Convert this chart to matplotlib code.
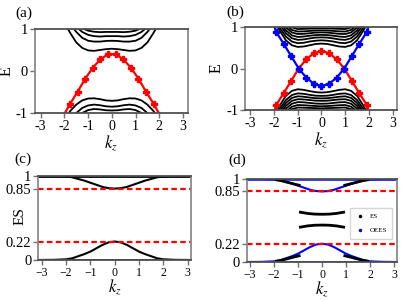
import numpy as np
import matplotlib
matplotlib.use('Agg')
import matplotlib.pyplot as plt
from matplotlib.lines import Line2D

plt.rcParams['font.family'] = ['Liberation Serif', 'DejaVu Serif']
plt.rcParams['mathtext.fontset'] = 'stix'

# half profiles (k >= 0), bands are symmetric in k
k_half = [0, 0.25, 0.5, 0.75, 1.0, 1.25, 1.5, 1.75, 2.0]

# (a) bulk bands
a_upper = [
    [0.53, 0.52, 0.50, 0.48, 0.49, 0.55, 0.68, 0.90, 1.15],
    [0.72, 0.715, 0.70, 0.70, 0.72, 0.79, 0.93, 1.12, 1.35],
    [0.83, 0.83, 0.82, 0.83, 0.86, 0.93, 1.05, 1.20, 1.40],
    [0.93, 0.93, 0.925, 0.935, 0.96, 1.02, 1.10, 1.25, 1.45],
]
a_lower = [
    [-0.71, -0.70, -0.67, -0.65, -0.655, -0.70, -0.80, -0.95, -1.15],
    [-0.85, -0.84, -0.815, -0.80, -0.82, -0.88, -1.00, -1.15, -1.30],
    [-0.94, -0.935, -0.915, -0.905, -0.93, -1.00, -1.10, -1.25, -1.40],
]

# (a) surface state (red)
a_red_k = [-1.98, -1.76, -1.44, -1.12, -0.8, -0.48, -0.16, 0.16, 0.48, 0.8, 1.12, 1.44, 1.76, 1.98]
a_red_e = [-1.0, -0.78, -0.49, -0.18, 0.08, 0.28, 0.40, 0.40, 0.28, 0.08, -0.18, -0.49, -0.78, -1.0]

# (b) bulk bands
b_upper = [
    [0.60, 0.59, 0.56, 0.53, 0.52, 0.56, 0.68, 0.90, 1.15],
    [0.68, 0.67, 0.65, 0.62, 0.61, 0.65, 0.77, 0.97, 1.20],
    [0.75, 0.745, 0.725, 0.70, 0.69, 0.73, 0.85, 1.05, 1.25],
    [0.81, 0.805, 0.79, 0.77, 0.76, 0.80, 0.92, 1.12, 1.30],
    [0.87, 0.865, 0.85, 0.835, 0.83, 0.87, 0.99, 1.18, 1.35],
    [0.92, 0.915, 0.905, 0.895, 0.89, 0.93, 1.05, 1.22, 1.40],
    [0.97, 0.965, 0.96, 0.955, 0.95, 0.99, 1.10, 1.25, 1.45],
]
b_lower = [
    [-0.58, -0.57, -0.545, -0.515, -0.50, -0.54, -0.66, -0.88, -1.15],
    [-0.66, -0.655, -0.635, -0.61, -0.60, -0.64, -0.76, -0.96, -1.20],
    [-0.72, -0.715, -0.70, -0.68, -0.67, -0.71, -0.83, -1.03, -1.25],
    [-0.78, -0.775, -0.76, -0.745, -0.74, -0.78, -0.90, -1.10, -1.30],
    [-0.85, -0.845, -0.83, -0.815, -0.81, -0.85, -0.97, -1.16, -1.35],
    [-0.91, -0.905, -0.895, -0.885, -0.88, -0.92, -1.04, -1.21, -1.40],
    [-0.96, -0.955, -0.95, -0.945, -0.94, -0.98, -1.09, -1.25, -1.45],
]

# (b) surface states
b_k = [-1.97, -1.92, -1.6, -1.28, -0.96, -0.64, -0.32, 0, 0.32, 0.64, 0.96, 1.28, 1.6, 1.92, 1.97]
b_red_e = [-1.0, -0.89, -0.60, -0.30, 0.0, 0.22, 0.37, 0.42, 0.37, 0.22, 0.0, -0.30, -0.60, -0.89, -1.0]
b_blue_e = [1.0, 0.89, 0.60, 0.30, 0.0, -0.22, -0.37, -0.42, -0.37, -0.22, 0.0, 0.30, 0.60, 0.89, 1.0]

# (c), (d) entanglement spectrum
es_k_half = [0, 0.25, 0.5, 0.75, 1.0, 1.25, 1.5, 1.75, 2.0, 2.5, 3.2]
es_low = [0.22, 0.21, 0.18, 0.14, 0.10, 0.07, 0.045, 0.02, 0.008, 0.002, 0.0]
es_high = [0.85, 0.855, 0.87, 0.895, 0.92, 0.945, 0.965, 0.985, 0.995, 0.999, 1.0]
es_flat_k = [-3.2, 3.2]
es_flat = [0.0, 1.0]
cut_lines = [0.85, 0.22]

# (d) ES points that leave the OEES curves
d_mid_k = [-0.9, -0.6, -0.3, 0, 0.3, 0.6, 0.9]
d_mid_hi = [0.60, 0.585, 0.577, 0.575, 0.577, 0.585, 0.60]
d_mid_lo = [0.42, 0.435, 0.443, 0.445, 0.443, 0.435, 0.42]
d_side_k = [-1.9, -1.7, -1.5, -1.3, -1.1, -0.95]
d_side_lo = [0.01, 0.02, 0.035, 0.05, 0.065, 0.075]
d_side_hi = [0.99, 0.98, 0.965, 0.95, 0.935, 0.925]


def full(kh, vals):
    kh = np.array(kh)
    v = np.array(vals)
    return np.concatenate([-kh[::-1], kh[1:]]), np.concatenate([v[::-1], v[1:]])


def style(ax):
    for s in ['left', 'right']:
        ax.spines[s].set_color('#8a8a8a')
    for s in ['top', 'bottom']:
        ax.spines[s].set_color('#505050')
    for s in ax.spines.values():
        s.set_linewidth(1.3)
    ax.tick_params(direction='out', length=3.5, width=1.0, color='#707070', pad=1.5)


W, H = 415, 301
fig = plt.figure(figsize=(W / 100, H / 100), dpi=100)


def box(l, r, t, b):
    return [l / W, (H - b) / H, (r - l) / W, (b - t) / H]


ax_a = fig.add_axes(box(34.8, 187.7, 29, 113))
ax_b = fig.add_axes(box(245.1, 397.4, 27, 110))
ax_c = fig.add_axes(box(38.3, 191.1, 176, 260))
ax_d = fig.add_axes(box(246.6, 397.4, 179, 262))

# (a)
for e in a_upper + a_lower:
    kk, ee = full(k_half, e)
    ax_a.plot(kk, ee, color='black', lw=1.3)
ax_a.plot(a_red_k, a_red_e, color='red', lw=1.6, marker='P', ms=4.2,
          markevery=list(range(1, len(a_red_k) - 1)))

# (b)
for e in b_upper + b_lower:
    kk, ee = full(k_half, e)
    ax_b.plot(kk, ee, color='black', lw=1.3)
mk = list(range(1, len(b_k) - 1))
ax_b.plot(b_k, b_red_e, color='red', lw=1.6, marker='P', ms=4.2, markevery=mk)
ax_b.plot(b_k, b_blue_e, color='blue', lw=1.6, marker='P', ms=4.2, markevery=mk)

for ax, lab, xl in [(ax_a, '(a)', (-3.25, 3.2)), (ax_b, '(b)', (-3.22, 3.2))]:
    ax.set_xlim(*xl)
    ax.set_ylim(-1, 1)
    ax.set_xticks([-3, -2, -1, 0, 1, 2, 3])
    ax.set_xticklabels(['-3', '-2', '-1', '0', '1', '2', '3'], fontsize=10)
    ax.set_yticks([-1, 0, 1])
    ax.set_yticklabels(['-1', '0', '1'], fontsize=10.5)
    ax.set_ylabel('E', fontsize=11.5)
    ax.yaxis.set_label_coords(-0.135, 0.5)
    ax.set_xlabel('$k_z$', fontsize=12)
    ax.xaxis.set_label_coords(0.5, -0.25)
    style(ax)

# (c)
for v in es_flat:
    ax_c.plot(es_flat_k, [v, v], color='black', lw=2)
for e in [es_low, es_high]:
    kk, ee = full(es_k_half, e)
    ax_c.plot(kk, ee, color='black', lw=1.5)
ax_c.set_ylabel('ES', fontsize=11)
ax_c.yaxis.set_label_coords(-0.075, 0.52)

# (d)
for v in es_flat:
    ax_d.plot(es_flat_k, [v, v], color='blue', lw=1.8)
for e in [es_low, es_high]:
    kk, ee = full(es_k_half, e)
    ax_d.plot(kk, ee, color='blue', lw=1.5)
ax_d.plot(d_mid_k, d_mid_hi, color='black', lw=2)
ax_d.plot(d_mid_k, d_mid_lo, color='black', lw=2)
for sgn in [1, -1]:
    ax_d.plot(np.array(d_side_k) * sgn, d_side_lo, color='black', lw=2)
    ax_d.plot(np.array(d_side_k) * sgn, d_side_hi, color='black', lw=2)
handles = [Line2D([], [], color='black', marker='.', ls='none', ms=3, label='ES'),
           Line2D([], [], color='blue', marker='.', ls='none', ms=3, label='OEES')]
ax_d.legend(handles=handles, loc='upper left', bbox_to_anchor=(0.686, 0.655),
            fontsize=5, frameon=True, fancybox=False, edgecolor='#cccccc',
            handlelength=1.2, borderpad=0.8, labelspacing=1.2, borderaxespad=0)

for ax in [ax_c, ax_d]:
    for v in cut_lines:
        ax.axhline(v, color='red', lw=1.6, ls=(0, (2.5, 1.5)))
    ax.set_xlim(-3.14, 3.14)
    ax.set_ylim(0, 1)
    ax.set_xticks([-3, -2, -1, 0, 1, 2, 3])
    ax.set_xticklabels(['\u22123', '\u22122', '\u22121', '0', '1', '2', '3'], fontsize=8.5)
    ax.set_yticks([0, 0.22, 0.85, 1])
    ax.set_yticklabels(['0', '0.22', '0.85', '1'], fontsize=10.5)
    ax.set_xlabel('$k_z$', fontsize=12)
    ax.xaxis.set_label_coords(0.5, -0.215)
    style(ax)

fig.text(24 / W, 1 - 13 / H, '(a)', fontsize=11, ha='center', va='center')
fig.text(235 / W, 1 - 12 / H, '(b)', fontsize=11, ha='center', va='center')
fig.text(22.5 / W, 1 - 159 / H, '(c)', fontsize=11, ha='center', va='center')
fig.text(237 / W, 1 - 160 / H, '(d)', fontsize=11, ha='center', va='center')

fig.savefig('out.png', dpi=100)
